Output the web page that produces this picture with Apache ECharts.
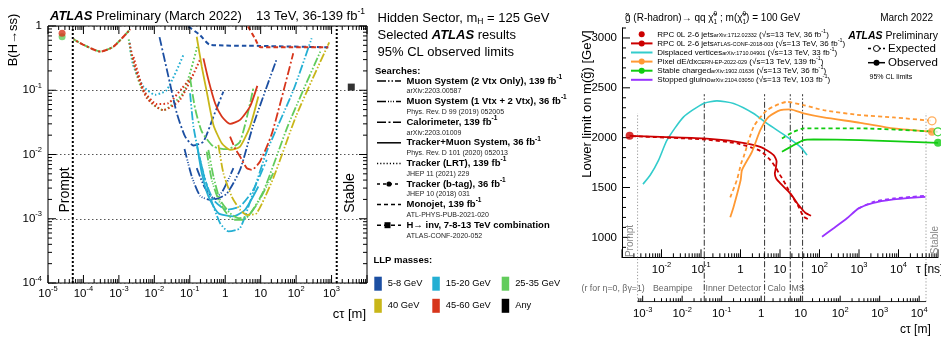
<!DOCTYPE html>
<html>
<head>
<meta charset="utf-8">
<title>Hidden-sector and R-hadron lifetime limits</title>
<script src="https://cdn.jsdelivr.net/npm/echarts@6.0.0/dist/echarts.min.js"></script>
<style>
  html, body { margin: 0; padding: 0; background: #fff; }
  #chart { width: 941px; height: 337px; }
</style>
</head>
<body>
<div id="chart"></div>
<script>
// ===================== Left panel: B(H->ss) vs c*tau [m] =====================
const promptCtau = 5e-5;
const stableCtau = 1.4e3;
const leftXRange = [1e-5, 1e4];
const leftYRange = [1e-4, 1];
const leftXLabelExps = [-5, -4, -3, -2, -1, 0, 1, 2, 3];
const leftYLabelExps = [-4, -3, -2, -1, 0];

// Tracker (b-tag), 36 fb-1 (prompt points and lifetime curve)
const bTagPromptRed = [[2.5e-5, 0.77]];
const bTagPromptGreen = [[2.5e-5, 0.68]];
const bTagLimit = [[5.3e-5, 0.62], [1.0e-4, 0.51], [3.0e-4, 0.40], [7.1e-4, 0.48], [2.1e-3, 0.89]];

// Tracker (LRT), 139 fb-1
const lrtCyan = [[2.0e-3, 0.55], [2.5e-3, 0.25], [4.95e-3, 0.114], [0.0105, 0.085], [0.0225, 0.101], [0.066, 0.354]];
const lrtGreen = [[1.9e-3, 0.62], [2.3e-3, 0.33], [4.0e-3, 0.12], [8.5e-3, 0.062], [0.0177, 0.049], [0.065, 0.091], [0.161, 0.47]];
const lrtRedA = [[2.0e-3, 0.54], [2.9e-3, 0.22], [6.1e-3, 0.076], [0.018, 0.049], [0.053, 0.071], [0.195, 0.30]];
const lrtRedB = [[2.6e-3, 0.33], [4.95e-3, 0.101], [0.0117, 0.061], [0.025, 0.063], [0.060, 0.107], [0.127, 0.173]];

// Monojet, 139 fb-1
const monojetBlue = [[0.092, 0.98], [0.195, 0.72], [0.374, 0.51], [9.6, 0.49], [805, 0.466]];
const monojetRed = [[4.4, 0.98], [6.9, 0.64], [10, 0.466], [805, 0.466]];

// Calorimeter / Muon System / Tracker+Muon System
const blueCalo = [[0.014, 0.67], [0.025, 0.163], [0.043, 0.044], [0.074, 0.019], [0.127, 0.0138], [0.243, 0.0159], [0.465, 0.039], [0.887, 0.095]];
const blueMs12 = [[0.071, 0.0122], [0.114, 0.00455], [0.195, 0.00228], [0.374, 0.00197], [0.80, 0.00257], [1.70, 0.00614]];
const blueMs2 = [[0.157, 0.00614], [0.27, 0.0030], [0.518, 0.00202], [1.10, 0.00245], [2.62, 0.00578], [6.2, 0.0289], [28.2, 0.303]];
const cyanMs2 = [[0.102, 0.0898], [0.127, 0.0272], [0.195, 0.00826], [0.374, 0.00222], [0.715, 0.000857], [1.23, 0.000636], [2.62, 0.000716], [6.2, 0.0026], [14.8, 0.0111], [83, 0.099], [274, 0.643]];
const cyanTms = [[0.157, 0.0150], [0.218, 0.00513], [0.336, 0.00222], [0.643, 0.00122], [1.70, 0.00109], [3.62, 0.00138], [8.6, 0.00318]];
const cyanCalo = [[0.187, 0.0093], [0.27, 0.00404], [0.465, 0.00197], [1.10, 0.00138], [2.62, 0.00156], [6.2, 0.00282], [14.8, 0.00826]];
const greenCalo = [[0.102, 0.154], [0.141, 0.0525], [0.218, 0.0228], [0.465, 0.0133], [1.10, 0.0121], [2.62, 0.0159], [6.2, 0.107]];
const greenMs2 = [[0.336, 0.0118], [0.465, 0.00455], [0.715, 0.00197], [1.37, 0.00122], [2.35, 0.00102], [4.5, 0.00111], [11.9, 0.00266], [60, 0.0289], [490, 0.409]];
const greenMs12 = [[0.301, 0.0111], [0.417, 0.00404], [0.715, 0.00175], [1.70, 0.000965], [3.25, 0.000965], [7.7, 0.00165], [22.7, 0.00513]];
const yellowTms = [[0.157, 0.68], [0.218, 0.233], [0.301, 0.0953], [0.465, 0.0289], [0.80, 0.0150], [1.37, 0.0118], [2.62, 0.0133], [5.0, 0.0272], [8.6, 0.0797]];
const yellowMs2 = [[0.643, 0.0141], [0.887, 0.00513], [1.52, 0.00222], [2.62, 0.00138], [4.04, 0.00115], [7.7, 0.00122], [22.7, 0.00429], [103, 0.0414], [860, 0.557]];
const redTms = [[0.243, 0.314], [0.336, 0.145], [0.518, 0.0628], [0.80, 0.039], [1.37, 0.030], [2.62, 0.0346], [5.0, 0.0557], [8.05, 0.117]];
const redCalo = [[1.37, 0.019], [1.89, 0.0125], [2.62, 0.0093], [4.04, 0.00614], [5.57, 0.00578], [9.6, 0.00778], [20, 0.02], [35, 0.06], [83, 0.376]];

// H -> invisible combination
const hInvLimit = [[3.6e3, 0.112]];

// ===================== Right panel: gluino mass limit vs tau [ns] =====================
const C_LIGHT = 0.299792458; // m per ns
const tauRange = [1e-3, 1e5];
const massRange = [800, 3100];
const massLabels = [1000, 1500, 2000, 2500, 3000];
const tauLabelExps = [-2, -1, 0, 1, 2, 3, 4];
const ctauLabelExps = [-3, -2, -1, 0, 1, 2, 3, 4];
const promptTau = 2.48e-3;
const stableTau = 4.97e4;
const detectorTau = [0.121, 4.07, 18.2, 37.3];
const detectorLineTop = 2436;
const edgeLineTop = 2246;

const rpcPromptPoint = [[1.56e-3, 2018]];
const rpcObserved = [[1.56e-3, 2018], [9.3e-3, 2008], [0.116, 1992], [0.81, 1958], [3.17, 1908], [6.9, 1825], [8.2, 1760], [7.8, 1690], [7.4, 1640], [8.0, 1590], [10.2, 1541], [18.2, 1441], [29.6, 1324], [43.7, 1247], [61, 1217]];
const rpcExpected = [[1.79e-3, 2015], [0.116, 1982], [0.81, 1942], [3.17, 1868], [5.7, 1775], [8.05, 1692], [9.5, 1640], [11, 1600], [15, 1507], [18.2, 1441], [29.6, 1307], [39.6, 1207], [58.5, 1174]];
const dvObserved = [[3.4e-3, 1534], [5.2e-3, 1625], [8.45e-3, 1775], [0.0138, 1975], [0.0363, 2209], [0.116, 2343], [0.254, 2369], [0.67, 2343], [2.15, 2243], [4.69, 2143], [15, 2008], [32.7, 1908], [48.3, 1825]];
const pixelObserved = [[0.55, 1201], [0.67, 1307], [1.01, 1575], [1.09, 1675], [1.95, 1858], [3.17, 2075], [5.14, 2209], [10.2, 2276], [18.2, 2283], [39.6, 2243], [127, 2203], [1080, 2149], [7500, 2093], [70500, 2059]];
const pixelExpected = [[0.55, 1401], [0.81, 1575], [1.04, 1742], [1.2, 1808], [2.15, 2109], [4.69, 2276], [15, 2359], [39.6, 2326], [127, 2276], [1080, 2226], [7500, 2203], [70500, 2169]];
const stableObserved = [[11.2, 1858], [39.6, 1975], [71, 1982], [1080, 1975], [1e5, 1948]];
const stableExpected = [[11.2, 1992], [22.1, 2059], [39.6, 2093], [1080, 2093], [1e5, 2059]];
const stoppedObserved = [[116, 1006], [228, 1091], [497, 1191], [977, 1291], [2340, 1347], [7500, 1381], [19900, 1397], [47900, 1407]];
const stoppedExpected = [[977, 1291], [2340, 1357], [7500, 1391], [19900, 1405], [47900, 1417]];

// ===================== styling =====================
const FONT = '"Liberation Sans", Arial, Helvetica, sans-serif';
const fnt = (px, st) => (st ? st + ' ' : '') + px + 'px ' + FONT;

const LLP = { blue: '#1c4fa2', cyan: '#24afd3', green: '#62cc5c', yellow: '#c8b619', red: '#d7351b', black: '#000000' };
const RP = { red: '#cc0000', cyan: '#33cccc', orange: '#ff9933', green: '#11cc11', purple: '#9933ff' };
const DASH = {
  ms2: [9, 2, 1.5, 2, 1.5, 2],
  ms12: [9, 2, 1, 1.5, 1, 1.5, 1, 2],
  calo: [9, 2.5, 2, 2.5],
  lrt: [1.6, 2.2],
  btag: [6, 2, 2, 2],
  mono: [4.5, 3]
};

// ---------- text helpers ----------
const measureCtx = document.createElement('canvas').getContext('2d');
function textWidth(t, font) { measureCtx.font = font; return measureCtx.measureText(t).width; }
function txt(x, y, t, font, opt) {
  opt = opt || {};
  const al = opt.align || 'left';
  return {
    type: 'text', x: x, y: y, rotation: opt.rotation || 0, silent: true, z: 50,
    style: { text: t, font: font, fill: opt.fill || '#000', align: al, verticalAlign: 'middle', textAlign: al, textVerticalAlign: 'middle' }
  };
}
// lays text fragments side by side (for super/subscripts)
function run(x, y, parts, opt) {
  opt = opt || {};
  let total = 0;
  parts.forEach(p => { if (!p.hold) total += textWidth(p.t, p.f); });
  let cx = opt.align === 'right' ? x - total : x;
  const out = [];
  parts.forEach(p => {
    out.push(txt(cx, y + (p.dy || 0), p.t, p.f, { fill: p.fill || opt.fill }));
    if (!p.hold) cx += textWidth(p.t, p.f);
  });
  return out;
}

// ---------- axis label helpers ----------
const richLabel = {
  b: { fontSize: 11.5, fontFamily: FONT, lineHeight: 17, color: '#000' },
  s: { fontSize: 7.5, fontFamily: FONT, lineHeight: 8, verticalAlign: 'top', color: '#000' }
};
function powLabel(exps) {
  return function (v) {
    const lg = Math.log10(v);
    const e = Math.round(lg);
    if (Math.abs(lg - e) > 1e-4 || exps.indexOf(e) < 0) return '';
    if (e === 0) return '{b|1}';
    if (e === 1) return '{b|10}';
    return '{b|10}{s|' + e + '}';
  };
}

// ---------- tick mark helpers (ROOT style: inside, log minor ticks at 2..9) ----------
function logTickValues(lo, hi) {
  const maj = [], min = [];
  for (let e = Math.floor(Math.log10(lo)); e <= Math.ceil(Math.log10(hi)); e++) {
    const b = Math.pow(10, e);
    if (b >= lo * 0.999 && b <= hi * 1.001) maj.push(b);
    for (let m = 2; m <= 9; m++) { const v = m * b; if (v >= lo && v <= hi) min.push(v); }
  }
  return { maj, min };
}
function xTicks(vals, edge, len, dir) { return vals.map(v => [v, edge, len, 0, dir]); }
function yTicks(vals, edge, len, dir) { return vals.map(v => [edge, v, len, dir, 0]); }
function tickSeries(xi, yi, items) {
  return {
    type: 'custom', xAxisIndex: xi, yAxisIndex: yi, silent: true, z: 6, clip: false,
    encode: { x: 0, y: 1 }, data: items,
    renderItem: function (p, api) {
      const pt = api.coord([api.value(0), api.value(1)]);
      const len = api.value(2), dx = api.value(3), dy = api.value(4);
      return { type: 'line', shape: { x1: pt[0], y1: pt[1], x2: pt[0] + dx * len, y2: pt[1] + dy * len }, style: { stroke: '#000', lineWidth: 1 } };
    }
  };
}

// ---------- series ----------
const series = [];
function leftLine(data, color, dash, width, extra) {
  return Object.assign({
    type: 'line', xAxisIndex: 0, yAxisIndex: 0, data: data, symbol: 'none', smooth: 0.2, silent: true, z: 3,
    lineStyle: { color: color, width: width || 1.8, type: dash || 'solid' }
  }, extra || {});
}
function rightLine(data, color, dash, width) {
  return {
    type: 'line', xAxisIndex: 1, yAxisIndex: 1, data: data, symbol: 'none', smooth: 0.2, silent: true, z: 4,
    lineStyle: { color: color, width: width || 1.6, type: dash || 'solid' }
  };
}
function dots(xi, yi, data, color, size, open, sym) {
  return {
    type: 'scatter', xAxisIndex: xi, yAxisIndex: yi, data: data, symbol: sym || 'circle', symbolSize: size, silent: true, z: 8,
    itemStyle: open ? { color: '#fff', borderColor: color, borderWidth: 1.3 } : { color: color }
  };
}

// left: prompt / stable boundaries
[promptCtau, stableCtau].forEach(v => series.push(leftLine([[v, leftYRange[0]], [v, leftYRange[1]]], '#000', [2, 2], 2, { smooth: false, z: 2 })));

// left: LRT dotted
series.push(leftLine(lrtCyan, LLP.cyan, DASH.lrt, 2));
series.push(leftLine(lrtGreen, LLP.green, DASH.lrt, 2));
series.push(leftLine(lrtRedA, LLP.red, DASH.lrt, 2));
series.push(leftLine(lrtRedB, LLP.red, DASH.lrt, 2));

// left: long-lifetime searches
series.push(leftLine(blueCalo, LLP.blue, DASH.calo));
series.push(leftLine(blueMs12, LLP.blue, DASH.ms12));
series.push(leftLine(blueMs2, LLP.blue, DASH.ms2));
series.push(leftLine(cyanMs2, LLP.cyan, DASH.ms2));
series.push(leftLine(cyanTms, LLP.cyan, null));
series.push(leftLine(cyanCalo, LLP.cyan, DASH.calo));
series.push(leftLine(greenCalo, LLP.green, DASH.calo));
series.push(leftLine(greenMs2, LLP.green, DASH.ms2));
series.push(leftLine(greenMs12, LLP.green, DASH.ms12));
series.push(leftLine(yellowTms, LLP.yellow, null));
series.push(leftLine(yellowMs2, LLP.yellow, DASH.ms2));
series.push(leftLine(redTms, LLP.red, null));
series.push(leftLine(redCalo, LLP.red, DASH.calo));

// left: monojet, b-tag
series.push(leftLine(monojetBlue, LLP.blue, DASH.mono, 2, { smooth: 0.2 }));
series.push(leftLine(monojetRed, LLP.red, DASH.mono, 2, { smooth: 0.2 }));
series.push(leftLine(bTagLimit, LLP.green, DASH.btag, 2));
series.push(leftLine(bTagLimit, LLP.red, DASH.btag, 2, { lineStyle: { color: LLP.red, width: 2, type: DASH.btag, dashOffset: 5 } }));
series.push(dots(0, 0, bTagPromptGreen, LLP.green, 7));
series.push(dots(0, 0, bTagPromptRed, LLP.red, 7));
series.push(dots(0, 0, hInvLimit, LLP.black, 7, false, 'rect'));

// left ticks
const lxT = logTickValues(leftXRange[0], leftXRange[1]);
const lyT = logTickValues(leftYRange[0], leftYRange[1]);
series.push(tickSeries(0, 0, [].concat(
  xTicks(lxT.maj, leftYRange[0], 8, -1), xTicks(lxT.min, leftYRange[0], 4, -1),
  xTicks(lxT.maj, leftYRange[1], 8, 1), xTicks(lxT.min, leftYRange[1], 4, 1),
  yTicks(lyT.maj, leftXRange[0], 8, 1), yTicks(lyT.min, leftXRange[0], 4, 1),
  yTicks(lyT.maj, leftXRange[1], 8, -1), yTicks(lyT.min, leftXRange[1], 4, -1)
)));

// right: detector boundaries (upper part in the mass frame, lower part down to the c*tau axis)
detectorTau.forEach(t => {
  series.push(Object.assign(rightLine([[t, massRange[0]], [t, detectorLineTop]], '#333', [6, 2, 1.5, 2], 1), { smooth: false, z: 1 }));
  series.push({ type: 'line', xAxisIndex: 2, yAxisIndex: 2, data: [[t * C_LIGHT, 0], [t * C_LIGHT, 1]], symbol: 'none', silent: true, z: 1, lineStyle: { color: '#333', width: 1, type: [6, 2, 1.5, 2] } });
});
[promptTau, stableTau].forEach(t => {
  series.push(Object.assign(rightLine([[t, massRange[0]], [t, edgeLineTop]], '#999', [1.2, 2], 1), { smooth: false, z: 1 }));
  series.push({ type: 'line', xAxisIndex: 2, yAxisIndex: 2, data: [[t * C_LIGHT, 0], [t * C_LIGHT, 1]], symbol: 'none', silent: true, z: 1, lineStyle: { color: '#999', width: 1, type: [1.2, 2] } });
});
// c*tau axis line from the prompt to the stable boundary
series.push({ type: 'line', xAxisIndex: 2, yAxisIndex: 2, data: [[promptTau * C_LIGHT, 0], [stableTau * C_LIGHT, 0]], symbol: 'none', silent: true, z: 5, lineStyle: { color: '#000', width: 1 } });

// right: curves
series.push(rightLine(dvObserved, RP.cyan, null, 1.6));
series.push(rightLine(rpcExpected, RP.red, [4, 3], 1.8));
series.push(rightLine(rpcObserved, RP.red, null, 1.8));
series.push(rightLine(pixelExpected, RP.orange, [4, 3], 1.8));
series.push(rightLine(pixelObserved, RP.orange, null, 1.8));
series.push(rightLine(stableExpected, RP.green, [4, 3], 1.8));
series.push(rightLine(stableObserved, RP.green, null, 1.8));
series.push(rightLine(stoppedExpected, RP.purple, [4, 3], 1.8));
series.push(rightLine(stoppedObserved, RP.purple, null, 1.8));
series.push(dots(1, 1, rpcPromptPoint, RP.red, 8));
series.push(dots(1, 1, [pixelObserved[pixelObserved.length - 1]], RP.orange, 8));
series.push(dots(1, 1, [pixelExpected[pixelExpected.length - 1]], RP.orange, 8, true));
series.push(dots(1, 1, [stableObserved[stableObserved.length - 1]], RP.green, 8));
series.push(dots(1, 1, [stableExpected[stableExpected.length - 1]], RP.green, 8, true));

// right ticks
const tT = logTickValues(tauRange[0], tauRange[1]);
const mMaj = [], mMin = [];
for (let m = 900; m <= 3100; m += 100) (m % 500 === 0 ? mMaj : mMin).push(m);
series.push(tickSeries(1, 1, [].concat(
  xTicks(tT.maj, massRange[0], 8, -1), xTicks(tT.min, massRange[0], 4, -1),
  yTicks(mMaj, tauRange[0], 8, 1), yTicks(mMin, tauRange[0], 4, 1)
)));
const cT = logTickValues(promptTau * C_LIGHT, stableTau * C_LIGHT);
series.push(tickSeries(2, 2, [].concat(xTicks(cT.maj, 0, 6, -1), xTicks(cT.min, 0, 3.5, -1))));

// ---------- text / legend graphics ----------
const G = [];
const R13 = fnt(13), IB13 = fnt(13, 'italic bold');
// left panel header
G.push(...run(50, 16.5, [{ t: 'ATLAS', f: IB13 }, { t: ' Preliminary (March 2022)', f: R13 }]));
G.push(...run(365, 16.5, [{ t: '13 TeV, 36-139 fb', f: R13 }, { t: '-1', f: fnt(8.5), dy: -5 }], { align: 'right' }));
G.push(txt(13, 40, 'B(H\u2192ss)', fnt(13), { align: 'center', rotation: Math.PI / 2 }));
G.push(txt(366, 314, 'c\u03c4 [m]', fnt(13), { align: 'right' }));
G.push(txt(65, 190, 'Prompt', fnt(14), { align: 'center', rotation: Math.PI / 2 }));
G.push(txt(350, 193, 'Stable', fnt(14), { align: 'center', rotation: Math.PI / 2 }));

// middle: description and search legend
G.push(...run(377.5, 18, [{ t: 'Hidden Sector, m', f: R13 }, { t: 'H', f: fnt(8.5), dy: 4 }, { t: ' = 125 GeV', f: R13 }]));
G.push(...run(377.5, 35, [{ t: 'Selected ', f: R13 }, { t: 'ATLAS', f: IB13 }, { t: ' results', f: R13 }]));
G.push(txt(377.5, 52, '95% CL observed limits', R13));
G.push(txt(375, 71, 'Searches:', fnt(9.5, 'bold')));

const searchEntries = [
  { name: 'Muon System (2 Vtx Only), 139 fb', ref: 'arXiv:2203.00587', dash: DASH.ms2 },
  { name: 'Muon System (1 Vtx + 2 Vtx), 36 fb', ref: 'Phys. Rev. D 99 (2019) 052005', dash: DASH.ms12 },
  { name: 'Calorimeter, 139 fb', ref: 'arXiv:2203.01009', dash: DASH.calo },
  { name: 'Tracker+Muon System, 36 fb', ref: 'Phys. Rev. D 101 (2020) 052013', dash: null },
  { name: 'Tracker (LRT), 139 fb', ref: 'JHEP 11 (2021) 229', dash: [1.2, 2] },
  { name: 'Tracker (b-tag), 36 fb', ref: 'JHEP 10 (2018) 031', dash: [3, 3], marker: 'circle' },
  { name: 'Monojet, 139 fb', ref: 'ATL-PHYS-PUB-2021-020', dash: [4, 3] },
  { name: 'H\u2192 inv, 7-8-13 TeV combination', ref: 'ATLAS-CONF-2020-052', dash: [4, 3], marker: 'rect', plain: true }
];
searchEntries.forEach((e, i) => {
  const y = 81 + i * 20.6;
  G.push({ type: 'line', silent: true, z: 50, shape: { x1: 377, y1: y, x2: 401, y2: y }, style: { stroke: '#000', lineWidth: 1.5, lineDash: e.dash || null } });
  if (e.marker === 'circle') G.push({ type: 'circle', silent: true, z: 51, shape: { cx: 389, cy: y, r: 2.6 }, style: { fill: '#000' } });
  if (e.marker === 'rect') G.push({ type: 'rect', silent: true, z: 51, shape: { x: 384.5, y: y - 3, width: 6, height: 6 }, style: { fill: '#000' } });
  const parts = [{ t: e.name, f: fnt(9.5, 'bold') }];
  if (!e.plain) parts.push({ t: '-1', f: fnt(6.5, 'bold'), dy: -4 });
  G.push(...run(406.5, y, parts));
  G.push(txt(406.5, y + 10.5, e.ref, fnt(7), { fill: '#222' }));
});

// LLP mass colour key
G.push(txt(373.5, 260, 'LLP masses:', fnt(9.5, 'bold')));
const massBins = ['5-8 GeV', '15-20 GeV', '25-35 GeV', '40 GeV', '45-60 GeV', 'Any'];
const massColors = [LLP.blue, LLP.cyan, LLP.green, LLP.yellow, LLP.red, LLP.black];
massBins.forEach((lab, i) => {
  const col = i % 3, row = Math.floor(i / 3);
  const sx = [374.3, 432.3, 501.7][col];
  const cy = row === 0 ? 283.7 : 305.8;
  G.push({ type: 'rect', silent: true, z: 50, shape: { x: sx, y: cy - 7, width: 7.5, height: 14 }, style: { fill: massColors[i] } });
  G.push(txt(sx + 13.5, cy, lab, fnt(9.3)));
});

// right panel header
const R10 = fnt(10), R6 = fnt(6.5);
G.push(...run(625, 18, [
  { t: 'g\u0303 (R-hadron)\u2192 qq \u03c7\u0303', f: R10 },
  { t: '0', f: R6, dy: -4, hold: true }, { t: '1', f: R6, dy: 4 },
  { t: ' ; m(\u03c7\u0303', f: R10 },
  { t: '0', f: R6, dy: -4, hold: true }, { t: '1', f: R6, dy: 4 },
  { t: ') = 100 GeV', f: R10 }
]));
G.push(txt(933, 18, 'March 2022', R10, { align: 'right' }));
G.push(txt(587, 104, 'Lower limit on m(g\u0303) [GeV]', fnt(13), { align: 'center', rotation: Math.PI / 2 }));

// right legend
const rpLegend = [
  { name: 'RPC 0L 2-6 jets', ref: 'arXiv:1712.02332', lumi: '36', color: RP.red, line: false, dot: true },
  { name: 'RPC 0L 2-6 jets', ref: 'ATLAS-CONF-2018-003', lumi: '36', color: RP.red, line: true, dot: true },
  { name: 'Displaced vertices', ref: 'arXiv:1710.04901', lumi: '33', color: RP.cyan, line: true, dot: false },
  { name: 'Pixel dE/dx', ref: 'CERN-EP-2022-029', lumi: '139', color: RP.orange, line: true, dot: true },
  { name: 'Stable charged', ref: 'arXiv:1902.01636', lumi: '36', color: RP.green, line: true, dot: true },
  { name: 'Stopped gluino', ref: 'arXiv:2104.03050', lumi: '103', color: RP.purple, line: true, dot: false }
];
const R8 = fnt(8), R55 = fnt(5.5);
rpLegend.forEach((e, i) => {
  const y = 34.3 + i * 9.1;
  if (e.line) G.push({ type: 'line', silent: true, z: 50, shape: { x1: 631, y1: y, x2: 652.5, y2: y }, style: { stroke: e.color, lineWidth: 2 } });
  if (e.dot) G.push({ type: 'circle', silent: true, z: 51, shape: { cx: 641.7, cy: y, r: 3 }, style: { fill: e.color } });
  G.push(...run(657.3, y, [
    { t: e.name, f: R8 }, { t: e.ref, f: R55, dy: 1 },
    { t: ' (\u221as=13 TeV, ' + e.lumi + ' fb', f: R8 }, { t: '-1', f: R55, dy: -3 }, { t: ')', f: R8 }
  ]));
});
G.push(...run(938, 36, [{ t: 'ATLAS', f: fnt(10.5, 'italic bold') }, { t: ' Preliminary', f: fnt(10.5) }], { align: 'right' }));
G.push({ type: 'line', silent: true, z: 50, shape: { x1: 868, y1: 48.5, x2: 885, y2: 48.5 }, style: { stroke: '#000', lineWidth: 1.5, lineDash: [3, 2] } });
G.push({ type: 'circle', silent: true, z: 51, shape: { cx: 876.5, cy: 48.5, r: 3 }, style: { fill: '#fff', stroke: '#000', lineWidth: 1 } });
G.push(txt(888, 48.5, 'Expected', fnt(11.5)));
G.push({ type: 'line', silent: true, z: 50, shape: { x1: 868, y1: 62.7, x2: 885, y2: 62.7 }, style: { stroke: '#000', lineWidth: 1.5 } });
G.push({ type: 'circle', silent: true, z: 51, shape: { cx: 876.5, cy: 62.7, r: 3 }, style: { fill: '#000' } });
G.push(txt(888, 62.7, 'Observed', fnt(11.5)));
G.push(txt(869.5, 77.3, '95% CL limits', fnt(7)));

// right panel axis titles and region labels
G.push(txt(916, 270, '\u03c4 [ns]', fnt(12)));
G.push(txt(900, 330, 'c\u03c4 [m]', fnt(12)));
const GRAY = '#666';
G.push(txt(581.5, 288.3, '(r for \u03b7=0, \u03b2\u03b3=1)', fnt(8.8), { fill: GRAY }));
G.push(txt(653, 288.3, 'Beampipe', fnt(8.8), { fill: GRAY }));
G.push(txt(705.5, 288.3, 'Inner Detector', fnt(8.8), { fill: GRAY }));
G.push(txt(767.5, 288.3, 'Calo', fnt(8.8), { fill: GRAY }));
G.push(txt(791.5, 288.3, 'MS', fnt(8.8), { fill: GRAY }));
G.push(txt(630, 241, 'Prompt', fnt(10), { align: 'center', rotation: Math.PI / 2, fill: '#888' }));
G.push(txt(935, 240, 'Stable', fnt(10), { align: 'center', rotation: Math.PI / 2, fill: '#888' }));

// ---------- chart ----------
const chart = echarts.init(document.getElementById('chart'), null, { renderer: 'canvas' });
chart.setOption({
  animation: false,
  backgroundColor: '#fff',
  textStyle: { fontFamily: FONT },
  grid: [
    { left: 48, top: 26, width: 319, height: 257, show: true, borderColor: '#000', borderWidth: 1, backgroundColor: 'transparent' },
    { left: 622, top: 28, width: 316, height: 229.3 },
    { left: 622, top: 257.3, width: 316, height: 44.4 }
  ],
  xAxis: [
    { type: 'log', gridIndex: 0, min: leftXRange[0], max: leftXRange[1], axisLine: { show: false }, axisTick: { show: false }, splitLine: { show: false },
      axisLabel: { formatter: powLabel(leftXLabelExps), rich: richLabel, margin: 2 } },
    { type: 'log', gridIndex: 1, min: tauRange[0], max: tauRange[1], axisLine: { show: true, onZero: false, lineStyle: { color: '#000', width: 1 } }, axisTick: { show: false }, splitLine: { show: false },
      axisLabel: { formatter: powLabel(tauLabelExps), rich: richLabel, margin: 4 } },
    { type: 'log', gridIndex: 2, min: tauRange[0] * C_LIGHT, max: tauRange[1] * C_LIGHT, axisLine: { show: false }, axisTick: { show: false }, splitLine: { show: false },
      axisLabel: { formatter: powLabel(ctauLabelExps), rich: richLabel, margin: 4 } }
  ],
  yAxis: [
    { type: 'log', gridIndex: 0, min: leftYRange[0], max: leftYRange[1], axisLine: { show: false }, axisTick: { show: false },
      splitLine: { show: true, lineStyle: { color: '#555', width: 1, type: [1.5, 2.5] } },
      axisLabel: { formatter: powLabel(leftYLabelExps), rich: richLabel, margin: 6 } },
    { type: 'value', gridIndex: 1, min: massRange[0], max: massRange[1], splitNumber: 5, axisLine: { show: true, onZero: false, lineStyle: { color: '#000', width: 1 } }, axisTick: { show: false }, splitLine: { show: false },
      axisLabel: { formatter: v => (massLabels.indexOf(v) >= 0 ? String(v) : ''), fontSize: 11.5, color: '#000', margin: 5, fontFamily: FONT } },
    { type: 'value', gridIndex: 2, min: 0, max: 1, show: false }
  ],
  graphic: { elements: G },
  series: series
});
</script>
</body>
</html>
